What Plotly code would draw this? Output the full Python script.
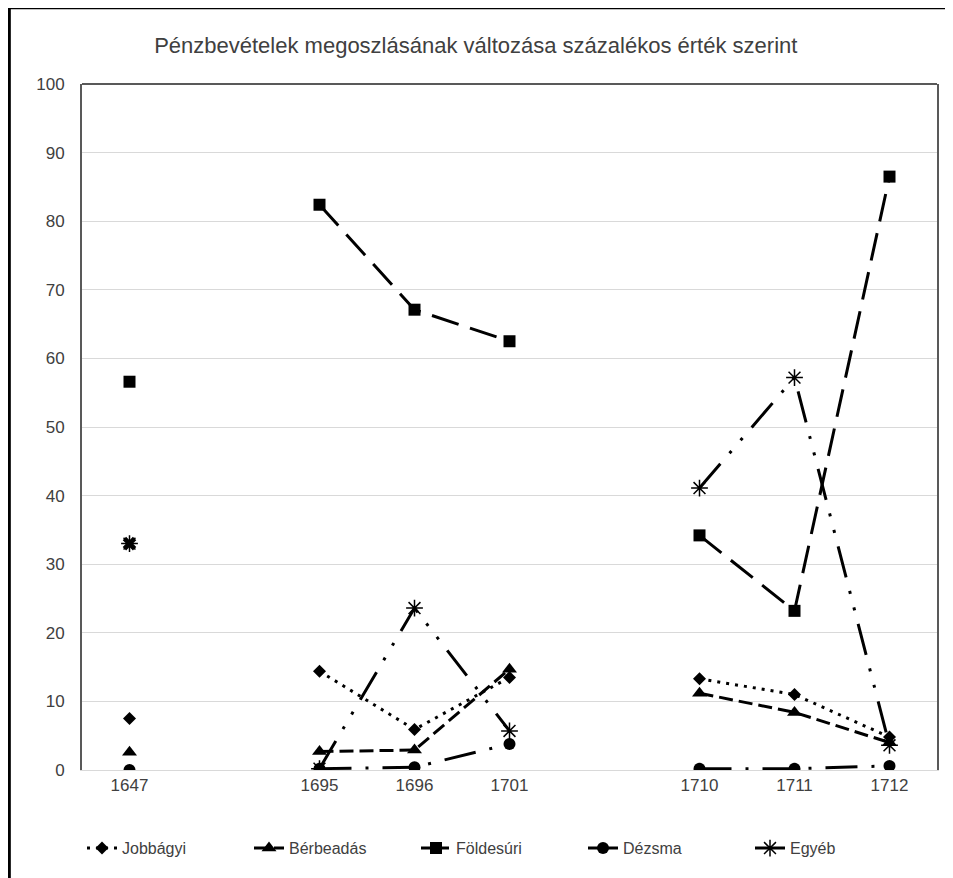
import plotly.graph_objects as go

# category slots, blank entries leave a gap like in the original sheet
categories = ["1647", " ", "1695", "1696", "1701", "  ", "1710", "1711", "1712"]

jobbagyi = [7.5, None, 14.4, 5.9, 13.5, None, 13.3, 11.0, 4.8]
berbeadas = [2.6, None, 2.7, 2.9, 14.7, None, 11.2, 8.4, 4.0]
foldesuri = [56.6, None, 82.4, 67.1, 62.5, None, 34.2, 23.2, 86.5]
dezsma = [0.0, None, 0.2, 0.4, 3.8, None, 0.2, 0.2, 0.6]
egyeb = [33.0, None, 0.2, 23.6, 5.7, None, 41.1, 57.2, 3.6]

FONT = "Liberation Sans, sans-serif"
TEXT = "#404040"

series = [
    ("Jobbágyi", jobbagyi, "3px,6px", dict(symbol="diamond", size=10)),
    ("Bérbeadás", berbeadas, "14px,6px", dict(symbol="triangle-up", size=13)),
    ("Földesúri", foldesuri, "28px,12px", dict(symbol="square", size=12)),
    ("Dézsma", dezsma, "32px,14px,3px,14px", dict(symbol="circle", size=12)),
    ("Egyéb", egyeb, "32px,14px,3px,14px,3px,14px",
     dict(symbol="asterisk-open", size=14, line=dict(width=1.5, color="black"))),
]

fig = go.Figure()

for name, values, dash, marker in series:
    fig.add_trace(go.Scatter(
        x=categories,
        y=values,
        name=name,
        mode="lines+markers",
        connectgaps=False,
        line=dict(color="black", width=3, dash=dash),
        marker=dict(color="black", **marker),
    ))

# the lone 1647 "Egyéb" point is drawn as a bold cross in the original
fig.add_trace(go.Scatter(
    x=categories[:1],
    y=egyeb[:1],
    mode="markers",
    showlegend=False,
    hoverinfo="skip",
    marker=dict(symbol="x", size=12, color="black"),
))

# page body has an 8px margin, so the figure is sized to fit inside it
fig.update_layout(
    width=945,
    height=870,
    paper_bgcolor="white",
    plot_bgcolor="white",
    font=dict(family=FONT, size=17, color=TEXT),
    margin=dict(l=74, r=16, t=76, b=108),
    title=dict(
        text="Pénzbevételek megoszlásának változása százalékos érték szerint",
        x=0.495, xanchor="center", y=0.957, yanchor="middle",
        font=dict(family=FONT, size=22, color=TEXT),
    ),
    legend=dict(
        orientation="h",
        x=0.0, xanchor="left",
        y=-0.114, yanchor="middle",
        font=dict(family=FONT, size=16, color=TEXT),
        itemwidth=30,
        entrywidth=122,
        entrywidthmode="pixels",
    ),
    shapes=[
        # dark top edge of the plot area
        dict(type="line", xref="paper", yref="paper", x0=0, x1=1, y0=1, y1=1,
             line=dict(color="#595959", width=2)),
        # black frame round the whole chart
        dict(type="rect", xref="paper", yref="paper",
             x0=-0.085, x1=1.1, y0=-0.25, y1=1.111,
             line=dict(color="black", width=3)),
    ],
)

fig.update_xaxes(
    type="category",
    categoryorder="array",
    categoryarray=categories,
    range=[-0.5, len(categories) - 0.5],
    showgrid=False,
    showline=True,
    linecolor="#d9d9d9",
    linewidth=1,
    ticks="",
    tickfont=dict(size=17, color=TEXT),
)

fig.update_yaxes(
    range=[0, 100],
    dtick=10,
    showgrid=True,
    gridcolor="#d9d9d9",
    gridwidth=1,
    zeroline=False,
    showline=True,
    mirror=True,
    linecolor="#595959",
    linewidth=2,
    ticks="outside",
    ticklen=12,
    tickcolor="rgba(0,0,0,0)",
    tickfont=dict(size=17, color=TEXT),
)

fig.write_html("out.html")
